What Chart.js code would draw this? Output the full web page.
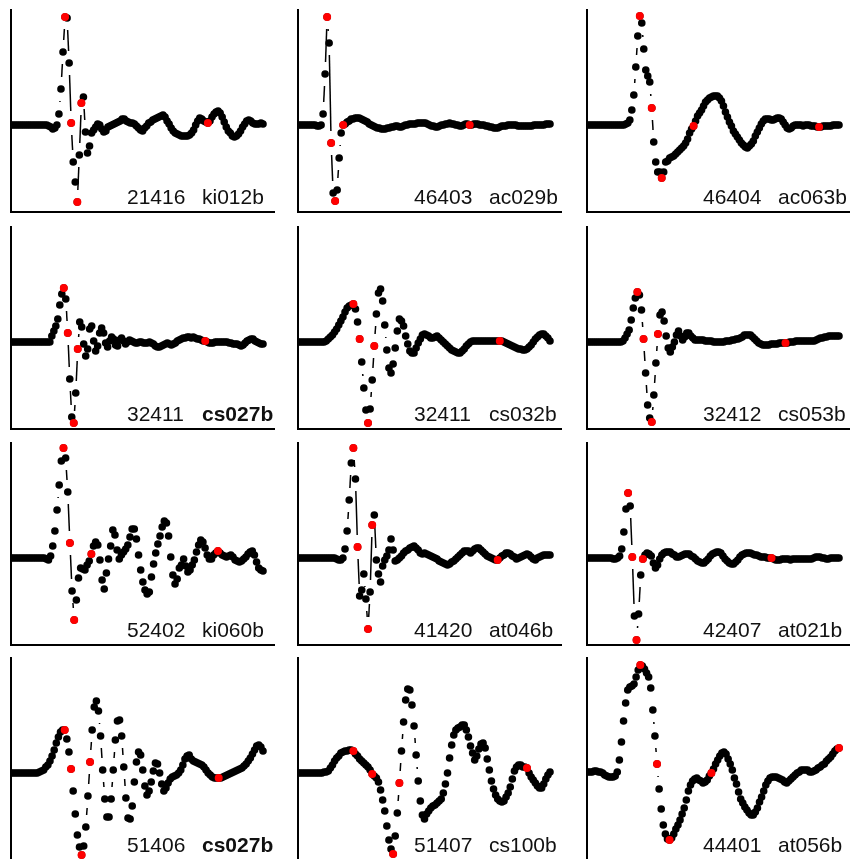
<!DOCTYPE html>
<html>
<head>
<meta charset="utf-8">
<title>Station waveforms</title>
<script src="https://cdn.jsdelivr.net/npm/chart.js@4.4.1/dist/chart.umd.min.js"></script>
<style>
  html, body { margin: 0; padding: 0; background: #fff; overflow: hidden; }
  #sheet { position: relative; width: 850px; height: 859px; overflow: hidden; }
  #sheet canvas { position: absolute; }
</style>
</head>
<body>
<div id="sheet"></div>
<script>
// Station numbers and record codes, one per panel (row by row)
const stations = ['21416', '46403', '46404', '32411', '32411', '32412', '52402', '41420', '42407', '51406', '51407', '44401'];
const records  = ['ki012b', 'ac029b', 'ac063b', 'cs027b', 'cs032b', 'cs053b', 'ki060b', 'at046b', 'at021b', 'cs027b', 'cs100b', 'at056b'];
const referenceRecord = 'cs027b';

// Amplitude traces (relative amplitude, one sample per step)
const w21416_ki012b = [0,0,0,0,0,0,0,0,0,0,0,0,0,0,0,0,0,0,
  -1,-2,-4,-3,0,11,36,73,108,107,62,2,-37,-57,-77,-30,22,28,-7,-28,-21,
  -8,-5,-2,1,0,-4,-7,-6,-2,-1, 0,1,2,3,4,6,6,4,3,2, 2,1,-1,-3,-5,-6,-3,-1,2,3,
  5,6,7,8,9,10,8,4,1,-3, -6,-8,-9,-10,-11,-11,-11,-11,-10,-8, -5,0,4,7,6,4,3,2,4,8,
  11,13,14,12,8,3,-2,-6,-8,-11, -12,-11,-9,-6,-2,1,4,5,4,2, 1,1,1,2,1];
const w46403_ac029b = [0,0,0,0,0,0,0,0,0,-1,-1,0,
  11,51,108,82,-18,-68,-76,-65,-33,-8,
  0,1,3,4,6,6,7,7,7,6, 5,4,3,1,0,-1,-2,-3,-3,-4, -4,-4,-3,-3,-2,-2,-1,-1,-2,-2,
  -1,0,0,1,1,1,1,2,2,2, 2,2,1,0,-1,-1,-2,-2,-1,0, 0,1,1,2,1,1,0,0,-1,-1,
  0,1,1,0,0,1,1,1,0,0, 0,-1,-1,-2,-2,-3,-3,-3,-2,-1, -1,-1,0,0,0,0,0,-1,-1,-1,
  -1,-1,-1,-1,-1,0,0,0,0,0, 0,1,1,1];
const w46404_ac063b = [0,0,0,0,0,0,0,0,0,0,0,0,0,0,0,0,0,0,0,
  1,2,5,15,30,58,89,109,102,76,55,49,43,17,-17,-37,-47,-47,-53,-47,-37,-36,-33,
  -32,-31,-29,-27,-25,-23,-21,-18,-14,-8, -4,-1,4,9,12,15,19,23,25,27,
  28,29,29,29,27,24,19,13,8,3, -1,-6,-9,-12,-15,-18,-20,-22,-23,-21,
  -19,-16,-11,-7,-3,1,4,6,6,6, 5,5,6,7,7,6,3,0,-3,-4,
  -3,-1,0,0,0,0,-1,0,0,0, -1,-1,-1,-2,-2,-2,-1,-1,-1,-1, -1,0,0,0,0];
const w32411_cs027b = [0,0,0,0,0,0,0,0,0,0,0,0,0,0,0,0,0,0,0,0,
  6,11,16,23,37,48,54,43,9,-37, -75,-81,-51,-7,20,15,-2,-14,-7,13,
  16,1,-9,-4,9,14,9,-1,-5,1, 5,3,-3,-4,2,4,1,-2,0,2,
  1,0,-1,-1,0,0,-1,-1,-1,0, -1,-2,-4,-5,-5,-4,-3,-2,-1,-2,
  -3,-2,-1,1,2,3,4,4,5,5, 4,5,4,3,3,2,1,1,0,-1,
  -1,-1,0,0,0,0,0,0,0,-1, -1,-2,-2,-2,-3,-4,-3,-1,1,2, 3,3,1,0,-1,-2,-2];
const w32411_cs032b = [0,0,0,0,0,0,0,0,0,0,0,0,0,
  1,3,5,7,10,13,17,21,25,30, 34,36,37,38,33,20,3,-20,-46,-68,
  -81,-67,-38,-4,28,49,53,41,17,-8, -26,-31,-22,-6,11,23,21,16,6,-2,
  -9,-11,-11,-6,-1,3,7,8,7,6, 4,4,5,6,4,2,0,-2,-4,-6,
  -8,-9,-10,-11,-11,-9,-7,-4,-2,0, 1,1,1,1,1,1,1,1,1,1,
  1,1,1,1,1,0,-1,-2,-3,-4, -5,-6,-7,-7,-8,-8,-7,-5,-3,0, 3,5,7,8,8,6,4,1];
const w32412_cs053b = [0,0,0,0,0,0,0,0,0,0,0,0,0,0,0,0,0,
  1,4,8,12,22,34,44,50,47,32, 3,-31,-63,-76,-80,-53,-21,8,27,30,
  21,6,-6,-10,-5,0,7,11,6,2, 5,9,9,6,4,2,2,
  2,2,2,1,1,1,1,0,0,0, 0,0,0,1,1,1,2,2,3,3, 4,5,7,7,7,7,5,3,1,-1,
  -2,-3,-3,-3,-3,-2,-2,-2,-2,-1, -1,-1,-1,-1,0,0,0,1,1,1,
  1,1,1,1,1,1,1,2,3,4, 4,5,5,6,6,6,6,6,6];
const w52402_ki060b = [0,0,0,0,0,0,0,0,0,0,0,0,0,0,0,0,
  -1,-2,2,12,27,48,73,97,110,100, 66,15,-33,-62,-42,-20,-10,-11,-12,-7,
  -3,4,12,16,13,-2,-22,-31,-15,-1, 12,28,23,8,-1,3,6,9,13,21,
  29,29,19,3,-12,-24,-32,-36,-34,-19, -6,5,14,22,31,37,35,22,1,-17,
  -26,-21,-10,-7,-1,-8,-14,-12,-7,-2, 6,13,18,16,10,3,-1,-1,3,5,
  7,5,3,2,1,2,3,1,-2,-3, -4,-3,-1,1,4,6,7,3,-4,-10, -12,-13];
const w41420_at046b = [0,0,0,0,0,0,0,0,0,0,0,0,0,0,0,0,0,0,
  -1,-2,-2,0,9,27,58,95,110,79, 11,-38,-32,-16,-41,-71,-34,33,43,-2,
  -16,-24,-8,-2,2,8,19,8,-3,-2, 0,2,5,7,8,10,11,12,10,8,
  5,4,5,4,3,2,1,0,-1,-3, -4,-5,-6,-7,-6,-4,-3,-1,1,3,
  5,7,7,7,5,7,9,10,10,8, 6,4,2,1,0,-1,-2,-2,0,2,
  3,5,5,4,2,1,-1,0,1,2, 3,4,3,1,-1,-2,0,1,2,3, 3,3,3];
const w42407_at021b = [0,0,0,0,0,0,0,0,0,0,0,0,
  -1,-1,0,2,9,26,49,65,52,1, -58,-82,-56,-17,-1,3,5,4,2,-5, -10,-7,-1,3,5,
  6,6,6,4,3,1,1,2,3,4, 4,4,2,1,-1,-3,-4,-5,-5,-3, -1,2,4,5,6,6,5,2,-1,-3,
  -5,-6,-6,-4,-2,1,3,4,5,5, 5,4,3,3,2,1,1,1,0,0, 0,-1,-2,-2,-2,-1,-1,-1,-1,-2,
  -1,-1,-1,-1,-1,-1,-1,-1,-1,-1, 0,1,1,1,0,0,-1,-1,0,0, 0,0,0];
const w51406_cs027b = [0,0,0,0,0,0,0,0,0,0,0,0,0,
  1,2,3,6,8,12,17,23,30,36, 41,43,43,34,21,4,-18,-41,-62,-74,
  -82,-73,-54,-23,11,43,66,72,62,37, 3,-26,-44,-44,-26,3,33,52,53,37,
  6,-25,-45,-46,-33,-9,11,21,18,3, -13,-22,-18,-9,2,10,9,0,-11,-18,
  -15,-10,-6,-4,-3,-2,0,3,8,14, 17,18,14,12,11,10,9,8,6,3,
  0,-2,-4,-5,-5,-5,-5,-4,-3,-2, -1,0,1,2,3,4,5,7,9,12, 15,19,23,27,28,26,22];
const w51407_cs100b = [0,0,0,0,0,0,0,0,0,0,0,0,
  1,1,2,5,8,12,15,17,20,21, 22,22,23,23,22,19,17,14,12,10,
  8,6,3,-1,-3,-5,-9,-17,-27,-38, -53,-67,-76,-81,-63,-40,-10,22,51,73,
  84,83,68,47,18,-8,-28,-42,-46,-41, -38,-35,-33,-32,-30,-28,-26,-20,-11,0,
  15,28,38,43,45,46,48,48,43,36, 27,20,13,17,24,29,30,25,14,3,
  -8,-16,-22,-26,-28,-29,-28,-24,-20,-14, -6,2,6,8,8,6,6,5,0,-4,
  -7,-10,-13,-15,-15,-11,-6,-2,1];
const w44401_at056b = [1,1,1,2,2,1,1,0,-2,-3,
  -4,-4,-4,-3,1,13,31,52,70,83, 86,87,89,96,103,108,107,104,100,96,
  85,63,37,9,-16,-36,-52,-61,-66,-67, -65,-61,-56,-52,-47,-41,-35,-27,-18,-12,
  -8,-6,-5,-7,-8,-10,-9,-7,-3,0, 4,9,13,17,20,21,19,14,9,3,
  -5,-11,-19,-26,-30,-34,-37,-40,-42,-42, -39,-35,-29,-24,-18,-12,-8,-5,-4,-4,
  -4,-5,-6,-7,-9,-10,-8,-6,-4,-2, 0,1,3,3,3,3,1,1,2,3,
  5,6,8,9,12,14,16,19,22,24, 25];

// Picked samples (sample indices) shown in red
const p21416_ki012b = [26, 29, 32, 34, 96];
const p46403_ac029b = [14, 16, 18, 22, 85];
const p46404_ac063b = [26, 32, 37, 53, 116];
const p32411_cs027b = [26, 28, 31, 33, 97];
const p32411_cs032b = [26, 29, 33, 36, 96];
const p32412_cs053b = [24, 27, 31, 34, 96];
const p52402_ki060b = [24, 27, 29, 37, 96];
const p41420_at046b = [26, 28, 33, 35, 95];
const p42407_at021b = [19, 21, 23, 26, 87];
const p51406_cs027b = [25, 28, 33, 37, 98];
const p51407_cs100b = [26, 35, 45, 48, 109];
const p44401_at056b = [25, 33, 39, 59, 120];

const traces = [w21416_ki012b, w46403_ac029b, w46404_ac063b, w32411_cs027b, w32411_cs032b, w32412_cs053b,
                w52402_ki060b, w41420_at046b, w42407_at021b, w51406_cs027b, w51407_cs100b, w44401_at056b];
const picks  = [p21416_ki012b, p46403_ac029b, p46404_ac063b, p32411_cs027b, p32411_cs032b, p32412_cs053b,
                p52402_ki060b, p41420_at046b, p42407_at021b, p51406_cs027b, p51407_cs100b, p44401_at056b];

// Common amplitude window for every panel
const AMP_MIN = -87, AMP_MAX = 115;

// Panel layout (pixels)
const COL_X = [11, 298, 587];
const ROW_Y = [10, 227, 443, 658];
const PLOT_W = 263, PLOT_H = 202, PAD = 6;
const TRACE_W = 251;          // horizontal extent covered by a trace
const GAP = 12;               // blank space left around each point on connecting lines
const FONT = '21px "Liberation Sans", Arial, Helvetica, sans-serif';

// Connecting segments are drawn only between points that are far apart,
// leaving a gap around each point.
function trimmedDash(ctx) {
  const len = Math.hypot(ctx.p1.x - ctx.p0.x, ctx.p1.y - ctx.p0.y);
  return len > 2 * GAP ? [0, GAP, len - 2 * GAP, GAP + 2000] : [0, len + 2000];
}

const stationLabel = {
  id: 'stationLabel',
  afterDatasetsDraw(chart, args, opts) {
    const { ctx, chartArea } = chart;
    const y = chartArea.bottom - 8;
    ctx.save();
    ctx.fillStyle = '#111';
    ctx.textAlign = 'left';
    ctx.textBaseline = 'alphabetic';
    ctx.font = FONT;
    ctx.fillText(opts.station, chartArea.left + 116, y);
    ctx.font = (opts.bold ? 'bold ' : '') + FONT;
    ctx.fillText(opts.record, chartArea.left + 191, y);
    ctx.restore();
  }
};

const sheet = document.getElementById('sheet');

traces.forEach((trace, k) => {
  const col = k % 3, row = Math.floor(k / 3);
  const canvas = document.createElement('canvas');
  canvas.width = PLOT_W + 2 * PAD;
  canvas.height = PLOT_H + 2 * PAD;
  canvas.style.left = (COL_X[col] - PAD) + 'px';
  canvas.style.top = (ROW_Y[row] - PAD) + 'px';
  sheet.appendChild(canvas);

  const n = trace.length;
  const step = TRACE_W / (n - 1);
  const marked = picks[k];

  const hiddenAxis = {
    grid: { display: false, drawTicks: false },
    ticks: { display: false },
    border: { display: true, color: '#000', width: 2 }
  };

  new Chart(canvas, {
    type: 'line',
    data: {
      labels: trace.map((_, i) => i),
      datasets: [
        {
          data: trace.map((v, i) => marked.includes(i) ? v : null),
          showLine: false,
          pointRadius: 4,
          pointBackgroundColor: '#ff0000',
          pointBorderWidth: 0,
          order: 0
        },
        {
          data: trace,
          borderColor: '#000',
          borderWidth: 1.5,
          pointRadius: 3.8,
          pointBackgroundColor: '#000',
          pointBorderWidth: 0,
          segment: { borderDash: trimmedDash },
          order: 1
        }
      ]
    },
    options: {
      responsive: false,
      animation: false,
      devicePixelRatio: 1,
      events: [],
      layout: { padding: PAD },
      plugins: {
        legend: { display: false },
        tooltip: { enabled: false },
        stationLabel: { station: stations[k], record: records[k], bold: records[k] === referenceRecord }
      },
      scales: {
        x: Object.assign({ type: 'linear', min: -1 / step, max: (PLOT_W - 1) / step }, hiddenAxis),
        y: Object.assign({ type: 'linear', min: AMP_MIN, max: AMP_MAX }, hiddenAxis)
      }
    },
    plugins: [stationLabel]
  });
});
</script>
</body>
</html>
